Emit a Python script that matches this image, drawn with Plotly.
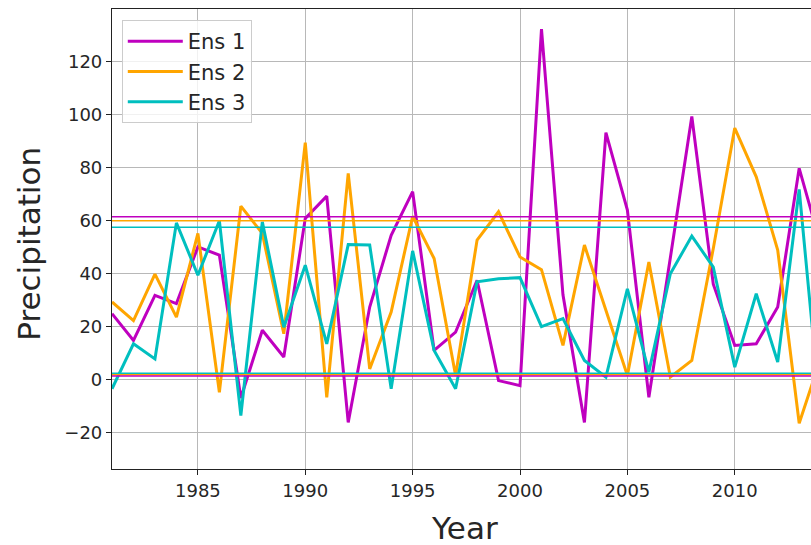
import plotly.graph_objects as go

years = list(range(1981, 2015))

ens1 = [24.9, 14.8, 31.8, 28.7, 50.1, 47.0, -7.0, 18.6, 8.5, 60.9,
        69.3, -16.2, 27.4, 54.5, 71.0, 11.0, 17.9, 37.5, -0.4, -2.3,
        132.4, 32.0, -16.2, 93.3, 64.0, -6.7, 46.0, 99.4, 36.0, 12.9,
        13.5, 27.4, 79.8, 51.0]
ens2 = [29.3, 22.3, 39.8, 23.6, 55.2, -4.8, 65.5, 55.2, 17.3, 89.5,
        -6.7, 77.9, 4.0, 25.5, 61.7, 45.7, 1.5, 52.7, 63.4, 46.3,
        41.5, 12.9, 50.8, 26.1, 1.5, 44.4, 0.9, 7.2, 49.5, 95.0,
        76.6, 48.9, -16.5, 8.0]
ens3 = [-3.5, 13.5, 7.8, 59.2, 39.4, 60.0, -13.6, 59.6, 19.8, 43.2,
        13.5, 51.0, 50.8, -3.5, 48.6, 11.0, -3.5, 36.9, 38.1, 38.5,
        20.0, 23.0, 7.2, 0.9, 34.3, 2.8, 40.0, 54.2, 42.5, 4.7,
        32.4, 6.6, 71.8, -14.0]

names = ["Ens 1", "Ens 2", "Ens 3"]
colors = ["#bf00bf", "#ffa500", "#00bfbf"]
upper_lines = [61.5, 60.0, 57.5]
lower_lines = [1.3, 1.8, 2.4]

x_ticks = [1985, 1990, 1995, 2000, 2005, 2010]
y_ticks = [-20, 0, 20, 40, 60, 80, 100, 120]

fig = go.Figure()
for i, (name, vals) in enumerate(zip(names, [ens1, ens2, ens3])):
    fig.add_trace(go.Scatter(x=years, y=vals, mode="lines", name=name,
                             legendgroup=name,
                             line=dict(color=colors[i], width=3)))
for i in range(3):
    fig.add_hline(y=upper_lines[i], line=dict(color=colors[i], width=1.5), layer="above")
for i in [1, 0, 2]:
    fig.add_hline(y=lower_lines[i], line=dict(color=colors[i], width=1.5), layer="above")

axis_common = dict(showgrid=True, gridcolor="#b8b8b8", gridwidth=1.2,
                   zeroline=False, showline=True, linecolor="#222222", linewidth=1.2,
                   ticks="outside", ticklen=5, tickcolor="#222222", automargin=False,
                   tickfont=dict(family="DejaVu Sans", size=18, color="#262626"))

fig.update_layout(
    width=811, height=545,
    margin=dict(l=112, r=0, t=9, b=76),
    paper_bgcolor="white", plot_bgcolor="white",
    font=dict(family="DejaVu Sans", color="#262626"),
    xaxis=dict(range=[1981, 2013.55], tickvals=x_ticks, mirror=True, **axis_common),
    yaxis=dict(range=[-33.8, 140], tickvals=y_ticks, **axis_common),
    legend=dict(x=0.014, y=0.976, xanchor="left", yanchor="top",
                bgcolor="rgba(255,255,255,0.8)", bordercolor="#cccccc", borderwidth=1,
                font=dict(size=21, color="#262626"), tracegroupgap=0,
                itemwidth=55, traceorder="grouped"),
    showlegend=True,
)
fig.add_annotation(text="Year", xref="paper", yref="paper", x=0.505, y=-0.128,
                   xanchor="center", yanchor="middle", showarrow=False,
                   font=dict(size=31, color="#262626"))
fig.add_annotation(text="Precipitation", xref="paper", yref="paper", x=-0.12, y=0.49,
                   xanchor="center", yanchor="middle", showarrow=False, textangle=-90,
                   font=dict(size=31, color="#262626"))

fig.write_html("out.html", config={"displayModeBar": False},
               post_script="document.body.style.margin='0';document.body.style.overflow='hidden';")
